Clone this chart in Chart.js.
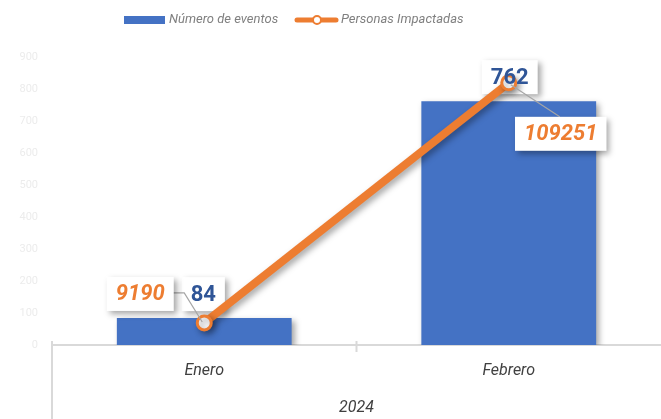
<!doctype html>
<html lang="es">
<head>
<meta charset="utf-8" />
<title>Eventos y personas impactadas 2024</title>
<script src="https://cdn.jsdelivr.net/npm/chart.js"></script>
<style>
  html, body { margin: 0; padding: 0; background: #fff; }
  .box { width: 661px; height: 419px; position: relative; }
</style>
</head>
<body>
<div class="box"><canvas id="chart" width="661" height="419"></canvas></div>
<script>
  const categories = ['Enero', 'Febrero'];
  const groupLabel = '2024';
  const eventos = [84, 762];
  const personas = [9190, 109251];
  const yMax = 900;
  const yStep = 100;
  const y2Max = 120000;

  const BLUE = '#4472c4';
  const ORANGE = '#ed7d31';
  const LABEL_BLUE = '#2f5597';
  const FONT = 'Roboto, "Noto Sans", sans-serif';

  // label offsets (px) from the anchor of each mark, like moved labels in the original
  const barLabelOffsets = [[-1, -24], [1, -24]];
  const lineLabelOffsets = [[-64, -29], [52, 51]];

  function labelFont(italic) {
    return (italic ? 'italic ' : '') + 'bold 22px ' + FONT;
  }

  function drawBoxBg(ctx, text, cx, cy, italic) {
    ctx.save();
    ctx.font = labelFont(italic);
    const w = ctx.measureText(text).width + 18;
    const h = 34;
    ctx.shadowColor = 'rgba(0,0,0,0.35)';
    ctx.shadowBlur = 6;
    ctx.shadowOffsetX = 3;
    ctx.shadowOffsetY = 3;
    ctx.fillStyle = '#fff';
    ctx.fillRect(cx - w / 2, cy - h / 2, w, h);
    ctx.restore();
  }

  function drawBoxText(ctx, text, cx, cy, color, italic) {
    ctx.save();
    ctx.font = labelFont(italic);
    ctx.fillStyle = color;
    ctx.textAlign = 'center';
    ctx.textBaseline = 'middle';
    ctx.fillText(text, cx, cy + 1);
    ctx.restore();
  }

  const shadowPlugin = {
    id: 'shadows',
    beforeDatasetDraw(chart) {
      const ctx = chart.ctx;
      ctx.save();
      ctx.shadowColor = 'rgba(0,0,0,0.35)';
      ctx.shadowBlur = 6;
      ctx.shadowOffsetX = 3;
      ctx.shadowOffsetY = 3;
    },
    afterDatasetDraw(chart) {
      chart.ctx.restore();
    }
  };

  const decorPlugin = {
    id: 'decor',
    beforeDatasetsDraw(chart) {
      const { ctx, chartArea: a } = chart;
      const xs = chart.scales.x;
      ctx.save();
      ctx.strokeStyle = '#d9d9d9';
      ctx.lineWidth = 2;
      ctx.beginPath();
      ctx.moveTo(a.left, a.bottom);
      ctx.lineTo(chart.width, a.bottom);
      ctx.moveTo(a.left, a.bottom - 4);
      ctx.lineTo(a.left, chart.height);
      const mid = (xs.getPixelForValue(0) + xs.getPixelForValue(1)) / 2;
      ctx.moveTo(mid, a.bottom - 4);
      ctx.lineTo(mid, a.bottom + 7);
      ctx.stroke();
      ctx.restore();

      // bar label boxes sit under the line
      const barMeta = chart.getDatasetMeta(1);
      barMeta.data.forEach((bar, i) => {
        drawBoxBg(ctx, String(eventos[i]), bar.x + barLabelOffsets[i][0], bar.y + barLabelOffsets[i][1], false);
      });
    },
    afterDatasetsDraw(chart) {
      const { ctx, chartArea: a } = chart;
      const lineMeta = chart.getDatasetMeta(0);
      const barMeta = chart.getDatasetMeta(1);

      // leader lines
      ctx.save();
      ctx.strokeStyle = '#a6a6a6';
      ctx.lineWidth = 1.2;
      const p0 = lineMeta.data[0];
      const c0x = p0.x + lineLabelOffsets[0][0];
      const c0y = p0.y + lineLabelOffsets[0][1];
      ctx.beginPath();
      ctx.moveTo(c0x + 30, c0y - 1);
      ctx.lineTo(c0x + 44, c0y - 1);
      ctx.lineTo(p0.x - 2, p0.y - 1);
      ctx.stroke();
      const p1 = lineMeta.data[1];
      ctx.beginPath();
      ctx.moveTo(p1.x + 2, p1.y + 2);
      ctx.lineTo(p1.x + lineLabelOffsets[1][0] - 1, p1.y + lineLabelOffsets[1][1] - 17);
      ctx.stroke();
      ctx.restore();

      lineMeta.data.forEach((pt, i) => {
        const cx = pt.x + lineLabelOffsets[i][0];
        const cy = pt.y + lineLabelOffsets[i][1];
        drawBoxBg(ctx, String(personas[i]), cx, cy, true);
        drawBoxText(ctx, String(personas[i]), cx, cy, ORANGE, true);
      });
      barMeta.data.forEach((bar, i) => {
        drawBoxText(ctx, String(eventos[i]), bar.x + barLabelOffsets[i][0], bar.y + barLabelOffsets[i][1], LABEL_BLUE, false);
      });

      // group label
      ctx.save();
      ctx.font = 'italic 16px ' + FONT;
      ctx.fillStyle = '#404040';
      ctx.textAlign = 'center';
      ctx.textBaseline = 'middle';
      ctx.fillText(groupLabel, (a.left + chart.width) / 2, 408);
      ctx.restore();

      // legend
      ctx.save();
      ctx.font = 'italic 13px ' + FONT;
      ctx.textBaseline = 'middle';
      ctx.fillStyle = BLUE;
      ctx.fillRect(124, 16, 41, 8);
      ctx.fillStyle = '#808080';
      ctx.fillText(chart.data.datasets[1].label, 169, 20);
      ctx.strokeStyle = ORANGE;
      ctx.lineWidth = 5;
      ctx.lineCap = 'round';
      ctx.beginPath();
      ctx.moveTo(297, 20);
      ctx.lineTo(336, 20);
      ctx.stroke();
      ctx.beginPath();
      ctx.arc(317, 20, 4, 0, Math.PI * 2);
      ctx.fillStyle = '#fff';
      ctx.fill();
      ctx.lineWidth = 2;
      ctx.stroke();
      ctx.fillStyle = '#808080';
      ctx.fillText(chart.data.datasets[0].label, 341, 20);
      ctx.restore();
    }
  };

  new Chart(document.getElementById('chart'), {
    type: 'bar',
    data: {
      labels: categories,
      datasets: [
        {
          type: 'line',
          label: 'Personas Impactadas',
          data: personas,
          yAxisID: 'y1',
          borderColor: ORANGE,
          borderWidth: 8,
          pointRadius: 7,
          pointBorderWidth: 3,
          pointBackgroundColor: '#fff',
          pointBorderColor: ORANGE,
          tension: 0,
          clip: false,
          order: 0
        },
        {
          type: 'bar',
          label: 'Número de eventos',
          data: eventos,
          yAxisID: 'y',
          backgroundColor: BLUE,
          barPercentage: 0.574,
          categoryPercentage: 1,
          order: 1
        }
      ]
    },
    options: {
      responsive: false,
      animation: false,
      layout: { autoPadding: false, padding: { top: 57, right: 0, left: 0, bottom: 0 } },
      plugins: { legend: { display: false }, tooltip: { enabled: false } },
      scales: {
        x: {
          grid: { display: false },
          border: { display: false },
          ticks: { color: '#404040', font: { family: FONT, size: 16, style: 'italic' }, padding: 8 },
          afterFit(scale) {
            scale.height = 74;
            scale.paddingLeft = 0;
            scale.paddingRight = 0;
          }
        },
        y: {
          min: 0,
          max: yMax,
          ticks: { stepSize: yStep, color: '#ececec', font: { family: FONT, size: 11 }, padding: 6 },
          grid: { display: false },
          border: { display: false },
          afterFit(scale) { scale.width = 52; }
        },
        y1: {
          display: false,
          min: 0,
          max: y2Max
        }
      }
    },
    plugins: [shadowPlugin, decorPlugin]
  });
</script>
</body>
</html>
